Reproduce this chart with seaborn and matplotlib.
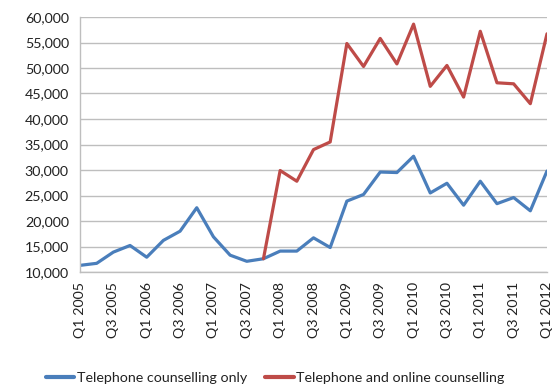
import matplotlib
matplotlib.use("Agg")
import matplotlib.pyplot as plt
import matplotlib.ticker as mticker
import numpy as np
import pandas as pd
import seaborn as sns

# Quarterly periods, Q1 2005 .. Q1 2012
quarters = [f"Q{q} {y}" for y in range(2005, 2013) for q in range(1, 5)][:29]

phone_only = [11300, 11700, 13900, 15200, 12900, 16200, 18000, 22600,
              16900, 13300, 12100, 12600, 14100, 14100, 16700, 14800,
              23900, 25200, 29600, 29500, 32700, 25500, 27400, 23100,
              27800, 23400, 24600, 22000, 29800]

phone_online = [None] * 11 + [12600, 29900, 27800, 34000, 35500,
                              54800, 50300, 55800, 50800, 58600, 46400,
                              50500, 44300, 57200, 47100, 46900, 43000, 56700]

series_names = ["Telephone counselling only", "Telephone and online counselling"]
series_colors = ["#4A7EBB", "#BE4B48"]

sns.set_theme(style="white")
plt.rcParams["font.family"] = ["Lato", "DejaVu Sans"]

idx = np.arange(len(quarters))
df = pd.concat([
    pd.DataFrame({"q": idx, "value": phone_only, "series": series_names[0]}),
    pd.DataFrame({"q": idx, "value": phone_online, "series": series_names[1]}),
]).dropna()
df["value"] = df["value"].astype(float)

fig = plt.figure(figsize=(5.6, 3.9), dpi=100)
ax = fig.add_axes([80 / 560, 1 - 272 / 390, 467 / 560, 255 / 390])

sns.lineplot(data=df, x="q", y="value", hue="series", hue_order=series_names,
             palette=series_colors, linewidth=2.3, ax=ax, legend=True)

ax.set_xlim(0, len(quarters) - 1)
ax.set_ylim(10000, 60000)
ax.set_yticks(np.arange(10000, 60001, 5000))
ax.yaxis.set_major_formatter(mticker.FuncFormatter(lambda v, p: f"{int(v):,}"))
ax.set_xticks(idx)
ax.set_xticklabels([q if i % 2 == 0 else "" for i, q in enumerate(quarters)],
                   rotation=90)
ax.set_xlabel("")
ax.set_ylabel("")

ax.grid(axis="y", color="#BEBEBE", linewidth=1)
ax.grid(axis="x", visible=False)
for side in ["top", "right"]:
    ax.spines[side].set_visible(False)
for side in ["left", "bottom"]:
    ax.spines[side].set_color("#BEBEBE")
    ax.spines[side].set_linewidth(1)
ax.tick_params(axis="both", which="major", direction="out", length=5,
               width=1, color="#BEBEBE", labelsize=10.3, labelcolor="#222222",
               pad=2)
ax.tick_params(axis="y", pad=3)

ax.legend(loc="center", bbox_to_anchor=(0.418, -0.415), ncol=2,
          frameon=False, fontsize=10.3, handlelength=2.0, handletextpad=0.15,
          columnspacing=1.3, labelcolor="#222222")
for line in ax.get_legend().get_lines():
    line.set_linewidth(3)

fig.savefig("out.png", dpi=100)
